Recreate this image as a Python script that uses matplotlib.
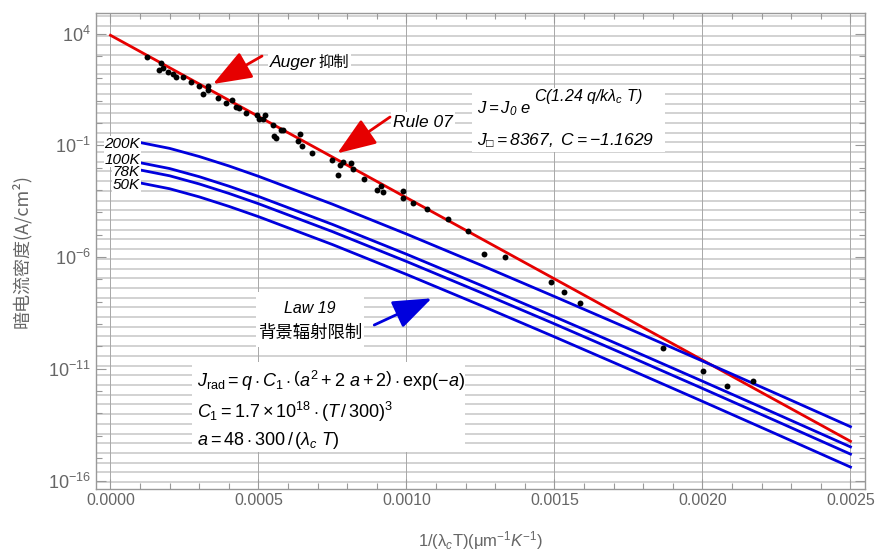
import numpy as np
import matplotlib
matplotlib.use('Agg')
import matplotlib.pyplot as plt
from matplotlib.patches import Rectangle
from matplotlib.ticker import FixedLocator, NullFormatter, FormatStrFormatter

plt.rcParams['font.family'] = ['Liberation Sans', 'Noto Sans CJK SC', 'DejaVu Sans']
plt.rcParams['mathtext.fontset'] = 'custom'
plt.rcParams['mathtext.rm'] = 'Liberation Sans'
plt.rcParams['mathtext.it'] = 'Liberation Sans:italic'
plt.rcParams['mathtext.bf'] = 'Liberation Sans:bold'
plt.rcParams['mathtext.sf'] = 'Liberation Sans'

# measured devices (black dots)
dot_x = [0.000123, 0.000171, 0.000165, 0.000176, 0.000194, 0.000212, 0.000223, 0.000246,
         0.000272, 0.000299, 0.000311, 0.000329, 0.000331, 0.000363, 0.000389, 0.000411,
         0.000425, 0.000435, 0.000459, 0.000494, 0.000503, 0.000514, 0.000522, 0.000548,
         0.000552, 0.000559, 0.000576, 0.000582, 0.000640, 0.000634, 0.000646, 0.000682,
         0.000747, 0.000775, 0.000786, 0.000770, 0.000811, 0.000818, 0.000857, 0.000901,
         0.000913, 0.000922, 0.000987, 0.000987, 0.001022, 0.001068, 0.001139, 0.001209,
         0.001263, 0.001333, 0.001487, 0.001533, 0.001586, 0.001868, 0.002003, 0.002084,
         0.002172]
dot_y = [861, 504, 245, 292, 200, 147, 116, 116,
         69, 44.8, 19.6, 47.1, 29.6, 12.7, 8.0, 10.3,
         5.3, 4.8, 2.77, 2.35, 1.45, 1.45, 2.38, 0.805,
         0.259, 0.222, 0.481, 0.467, 0.318, 0.155, 0.0955, 0.0464,
         0.0219, 0.0131, 0.0184, 0.00481, 0.0156, 0.00893, 0.0030, 9.95e-4,
         1.55e-3, 8.36e-4, 8.97e-4, 4.23e-4, 2.53e-4, 1.45e-4, 5.0e-5, 1.46e-5,
         1.36e-6, 9.7e-7, 7.6e-8, 2.64e-8, 9.0e-9, 8.7e-11, 8.2e-12, 1.69e-12,
         2.83e-12]

# Rule 07 fit line
rule_x = [0.0, 0.0025]
rule_y = [8367, 5.7e-15]

# Law 19 curves
law_x = [0.0001, 0.0002, 0.0003, 0.0004, 0.0005, 0.00075, 0.001, 0.00125,
         0.0015, 0.00175, 0.002, 0.00225, 0.0025]
law_200 = [0.133, 0.0726, 0.0314, 0.0119, 0.0041, 2.31e-4, 1.07e-5, 4.44e-7,
           1.71e-8, 6.30e-10, 2.22e-11, 7.64e-13, 2.56e-14]
law_100 = [0.0166, 9.08e-3, 3.93e-3, 1.48e-3, 5.13e-4, 2.88e-5, 1.34e-6, 5.55e-8,
           2.14e-9, 7.87e-11, 2.78e-12, 9.55e-14, 3.20e-15]
law_78 = [7.87e-3, 4.31e-3, 1.86e-3, 7.03e-4, 2.43e-4, 1.37e-5, 6.34e-7, 2.63e-8,
          1.02e-9, 3.73e-11, 1.32e-12, 4.53e-14, 1.52e-15]
law_50 = [2.07e-3, 1.135e-3, 4.91e-4, 1.85e-4, 6.41e-5, 3.61e-6, 1.67e-7, 6.93e-9,
          2.68e-10, 9.84e-12, 3.48e-13, 1.19e-14, 4.0e-16]
temp_labels = ['200K', '100K', '78K', '50K']

fig = plt.figure(figsize=(8.77, 5.51), dpi=100)
ax = fig.add_axes([0.1091, 0.1125, 0.8772, 0.8633])
ax.set_yscale('log')
ax.set_xlim(-0.00005, 0.002549)
ax.set_ylim(10 ** -16.38, 10 ** 4.904)
ax.set_axisbelow(True)

# grid: horizontal lines every e-fold, vertical at major x ticks
for g in np.exp(np.arange(-38, 12)):
    ax.axhline(g, color='#cfcfcf', lw=1.3, zorder=0)
for g in np.arange(0, 0.0026, 0.0005):
    ax.axvline(g, color='#a8a8a8', lw=0.7, zorder=0)

red = '#e60000'
blue = '#0000dd'
ax.plot(rule_x, rule_y, color=red, lw=2, zorder=3)
for ys in [law_200, law_100, law_78, law_50]:
    ax.plot(law_x, ys, color=blue, lw=2, zorder=3)
ax.scatter(dot_x, dot_y, s=18, color='black', zorder=4, linewidths=0)

# ticks
ax.xaxis.set_major_locator(FixedLocator(np.arange(0, 0.0026, 0.0005)))
ax.xaxis.set_minor_locator(FixedLocator(np.arange(0, 0.00255, 0.0001)))
ax.xaxis.set_major_formatter(FormatStrFormatter('%.4f'))
ax.yaxis.set_major_locator(FixedLocator([1e-16, 1e-11, 1e-6, 1e-1, 1e4]))
ax.yaxis.set_minor_locator(FixedLocator([10.0 ** k for k in range(-16, 5)]))
ax.yaxis.set_minor_formatter(NullFormatter())
ax.tick_params(which='both', direction='in', top=True, right=True,
               colors='#999999', labelcolor='#666666', labelsize=11.5)
ax.tick_params(axis='y', labelsize=13)
ax.tick_params(which='major', length=7, width=0.8)
ax.tick_params(which='minor', length=4, width=0.8)
ax.tick_params(axis='x', pad=3)
for s in ax.spines.values():
    s.set_color('#999999')
    s.set_linewidth(1)

ax.set_xlabel(r'1/(λ$_c$T)(μm$^{-1}$$K^{-1}$)', fontsize=12, color='#666666', labelpad=15)
ax.set_ylabel('暗电流密度(A/cm²)', fontsize=13, color='#666666',
              family=['Noto Sans CJK SC', 'DejaVu Sans'], labelpad=12)

wbox = dict(facecolor='white', edgecolor='none', pad=1.5)
T = ax.transAxes

# Auger / Rule 07 annotations
ax.text(0.2268, 0.8976, 'Auger', style='italic', fontsize=12.5, va='center', transform=T,
        bbox=wbox, zorder=5)
ax.text(0.2890, 0.8976, '抑制', fontsize=11, va='center', transform=T,
        family=['Noto Sans CJK SC'], bbox=wbox, zorder=5)
ax.text(0.3864, 0.7715, 'Rule 07', style='italic', fontsize=12.5, va='center', transform=T,
        bbox=wbox, zorder=5)
arrow = dict(arrowstyle='-|>,head_length=1.2,head_width=0.45', lw=2,
             mutation_scale=20, shrinkA=0, shrinkB=0)
ax.annotate('', xy=(0.1525, 0.8514), xytext=(0.2162, 0.9102), xycoords=T,
            arrowprops=dict(arrow, color=red), zorder=6)
ax.annotate('', xy=(0.3141, 0.7057), xytext=(0.3826, 0.7820), xycoords=T,
            arrowprops=dict(arrow, color=red), zorder=6)
ax.annotate('', xy=(0.4368, 0.4009), xytext=(0.3621, 0.3448), xycoords=T,
            arrowprops=dict(arrow, color=blue), zorder=6)

# fit formula box
ax.add_patch(Rectangle((0.489, 0.7084), 0.2509, 0.1345, transform=T,
                       facecolor='white', edgecolor='none', zorder=2))
ax.text(0.4957, 0.8000, r'$\mathdefault{J = J_0\ e}$',
        style='italic', fontsize=12, va='center', transform=T, zorder=5)
ax.text(0.5700, 0.8261, r'$\mathdefault{C(1.24\ q/k\lambda_c\ T)}$',
        style='italic', fontsize=11.5, va='center', transform=T, zorder=5)
ax.text(0.4957, 0.7330, r'$\mathdefault{J_{□} = 8367,\ C = -1.1629}$',
        style='italic', fontsize=12.5, va='center', transform=T, zorder=5)

# temperature labels
for lab, fy in zip(temp_labels, [0.7253, 0.6927, 0.6664, 0.6391]):
    ax.text(0.0576, fy, lab, style='italic', fontsize=11, ha='right', va='center',
            transform=T, bbox=dict(facecolor='white', edgecolor='none', pad=0.5), zorder=5)

# Law 19 box
ax.add_patch(Rectangle((0.2084, 0.2985), 0.1404, 0.1156, transform=T,
                       facecolor='white', edgecolor='none', zorder=2))
ax.text(0.2786, 0.3805, 'Law 19', style='italic', fontsize=11.5, ha='center', va='center',
        transform=T, zorder=5)
ax.text(0.2786, 0.3279, '背景辐射限制', fontsize=12.5, ha='center', va='center',
        transform=T, family=['Noto Sans CJK SC'], zorder=5)

# radiative limit formulas
ax.add_patch(Rectangle((0.1252, 0.0778), 0.3549, 0.1892, transform=T,
                       facecolor='white', edgecolor='none', zorder=2))
ax.text(0.1317, 0.2270,
        r'$J_{\rm rad} = q \cdot C_1 \cdot \left(a^2 + 2\ a + 2\right) \cdot {\rm exp}(-a)$',
        fontsize=13, va='center', transform=T, zorder=5)
ax.text(0.1317, 0.1619, r'$C_1 = 1.7 \times 10^{18} \cdot (T\,/\,300)^3$',
        fontsize=13, va='center', transform=T, zorder=5)
ax.text(0.1317, 0.1030, r'$a = 48 \cdot 300\,/\,(\lambda_c\ T)$',
        fontsize=13, va='center', transform=T, zorder=5)

fig.savefig('out.png', dpi=100)
